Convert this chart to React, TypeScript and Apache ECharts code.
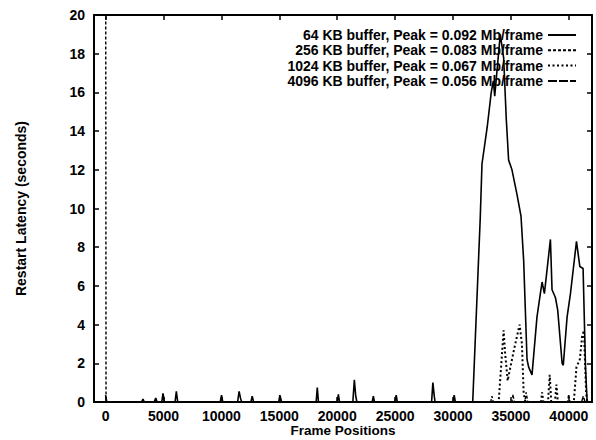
import React, { useEffect, useRef } from "react";
import * as echarts from "echarts";

const seriesNames = [
  "64 KB buffer, Peak = 0.092 Mb/frame",
  "256 KB buffer, Peak = 0.083 Mb/frame",
  "1024 KB buffer, Peak = 0.067 Mb/frame",
  "4096 KB buffer, Peak = 0.056 Mb/frame",
];

const xTicks = [0, 5000, 10000, 15000, 20000, 25000, 30000, 35000, 40000];

// 64 KB buffer (solid)
const frames64 = [
  0, 100, 3100, 3230, 3350, 4200, 4330, 4450, 4850, 4960, 5080, 6000, 6110, 6230,
  9900, 10010, 10120, 11400, 11530, 11650, 11750, 12550, 12660, 12780, 14950, 15050, 15200,
  18180, 18280, 18380, 20000, 20100, 20200, 21350, 21480, 21600, 21700, 23020, 23120, 23220,
  24990, 25090, 25190, 28150, 28260, 28380, 28450, 30000, 30100, 30200, 31700,
  32350, 32500, 32950, 33300, 33480, 33600, 34080, 34370, 34600, 34800, 35090, 35530, 35870,
  36100, 36390, 36530, 36820, 37250, 37540, 37690, 37890, 38410, 38550, 38840, 39040,
  39420, 39520, 39850, 40140, 40660, 40950, 41230, 41440, 41580,
];
const latency64 = [
  0.35, 0, 0, 0.15, 0, 0, 0.2, 0, 0, 0.45, 0, 0, 0.55, 0,
  0, 0.35, 0, 0, 0.55, 0.2, 0, 0, 0.3, 0, 0, 0.35, 0,
  0, 0.75, 0, 0, 0.4, 0, 0, 1.15, 0.3, 0, 0, 0.3, 0,
  0, 0.35, 0, 0, 1.0, 0.3, 0, 0, 0.35, 0, 0,
  9.5, 12.3, 14.2, 16.0, 16.6, 15.8, 19.0, 17.8, 14.6, 12.5, 12.0, 10.7, 9.6,
  7.3, 2.2, 1.8, 1.4, 4.4, 5.6, 6.2, 5.6, 8.4, 5.8, 5.4, 4.75,
  2.0, 1.9, 4.4, 5.6, 8.3, 7.0, 6.9, 1.8, 0,
];

// 256 KB buffer (dashed)
const frames256 = [
  0, 40, 33250, 33360, 33470, 35080, 35180, 35280, 36200, 36320, 36450, 39890, 39990, 40090, 41650,
];
const latency256 = [30, 0, 0, 0.3, 0, 0, 0.4, 0, 0, 0.5, 0, 0, 0.4, 0, 0];

// 1024 KB buffer (dotted)
const frames1024 = [
  0, 33940, 34370, 34500, 34720, 34850, 35300, 35750, 35950, 36100, 36250,
  37600, 37690, 37800, 38200, 38350, 38480, 38800, 38930, 39050,
  40430, 40660, 40950, 41150, 41300, 41500, 41600,
];
const latency1024 = [
  0, 0, 3.7, 2.5, 1.1, 1.5, 2.8, 4.0, 3.0, 0.45, 0,
  0, 0.5, 0, 0, 1.4, 0, 0, 0.9, 0,
  0, 1.8, 2.2, 3.4, 3.7, 0.4, 0,
];

// 4096 KB buffer (long dash)
const frames4096 = [0, 41100, 41250, 41400, 41650];
const latency4096 = [0, 0, 0.3, 0, 0];

const pairs = (xs: number[], ys: number[]) => xs.map((x, i) => [x, ys[i]]);

const FONT = "'Liberation Sans', Arial, Helvetica, sans-serif";

export default function App() {
  const ref = useRef<HTMLDivElement>(null);
  useEffect(() => {
    if (!ref.current) return;
    const chart = echarts.init(ref.current, null, { renderer: "svg" });
    const axisLine = { show: true, onZero: false, lineStyle: { color: "#000", width: 2 } };
    const tickStyle = { color: "#000", width: 1.5 };
    const labelStyle = { color: "#000", fontSize: 14, fontWeight: "bold" as const, fontFamily: FONT };
    chart.setOption({
      animation: false,
      backgroundColor: "#fff",
      grid: { left: 94, right: 4, top: 15, bottom: 38, containLabel: false, outerBoundsMode: "none" },
      legend: {
        data: seriesNames,
        orient: "vertical",
        right: 19,
        top: 28,
        align: "right",
        itemWidth: 28,
        itemHeight: 14,
        itemGap: 1.3,
        padding: 0,
        itemStyle: { color: "rgba(0,0,0,0)", borderColor: "rgba(0,0,0,0)", borderWidth: 0 },
        textStyle: { color: "#000", fontSize: 14, fontWeight: "bold", fontFamily: FONT },
      },
      xAxis: [
        {
          type: "value",
          position: "bottom",
          min: -1000,
          max: 42000,
          axisLine,
          splitLine: { show: false },
          axisTick: { inside: true, length: 5, customValues: xTicks, lineStyle: tickStyle },
          axisLabel: { ...labelStyle, margin: 7, customValues: xTicks, formatter: (v: number) => String(v) },
          name: "Frame Positions",
          nameLocation: "middle",
          nameGap: 21,
          nameMoveOverlap: false,
          nameTextStyle: { color: "#000", fontSize: 13.5, fontWeight: "bold", fontFamily: FONT, lineHeight: 14 },
        },
        {
          type: "value",
          position: "top",
          min: -1000,
          max: 42000,
          axisLine,
          splitLine: { show: false },
          axisTick: { inside: true, length: 5, customValues: xTicks, lineStyle: tickStyle },
          axisLabel: { show: false },
        },
      ],
      yAxis: [
        {
          type: "value",
          position: "left",
          min: 0,
          max: 20,
          interval: 2,
          axisLine,
          splitLine: { show: false },
          axisTick: { inside: true, length: 5, lineStyle: tickStyle },
          axisLabel: { ...labelStyle, margin: 9 },
          name: "Restart Latency (seconds)",
          nameLocation: "middle",
          nameGap: 66,
          nameRotate: 90,
          nameTextStyle: { color: "#000", fontSize: 14, fontWeight: "bold", fontFamily: FONT },
        },
        {
          type: "value",
          position: "right",
          min: 0,
          max: 20,
          interval: 2,
          axisLine,
          splitLine: { show: false },
          axisTick: { inside: true, length: 5, lineStyle: tickStyle },
          axisLabel: { show: false },
        },
      ],
      series: [
        {
          name: seriesNames[0],
          type: "line",
          symbol: "none",
          data: pairs(frames64, latency64),
          lineStyle: { color: "#000", width: 1.6, type: "solid" },
          itemStyle: { color: "#000" },
        },
        {
          name: seriesNames[1],
          type: "line",
          symbol: "none",
          data: pairs(frames256, latency256),
          lineStyle: { color: "#000", width: 1.4, type: [3, 2] },
          itemStyle: { color: "#000" },
        },
        {
          name: seriesNames[2],
          type: "line",
          symbol: "none",
          data: pairs(frames1024, latency1024),
          lineStyle: { color: "#000", width: 2, type: [2, 2.5] },
          itemStyle: { color: "#000" },
        },
        {
          name: seriesNames[3],
          type: "line",
          symbol: "none",
          data: pairs(frames4096, latency4096),
          lineStyle: { color: "#000", width: 1.4, type: [9, 2] },
          itemStyle: { color: "#000" },
        },
      ],
    });
    return () => chart.dispose();
  }, []);
  return (
    <div
      ref={ref}
      style={{ position: "fixed", left: 0, top: 0, width: 596, height: 440, background: "#fff" }}
    />
  );
}
